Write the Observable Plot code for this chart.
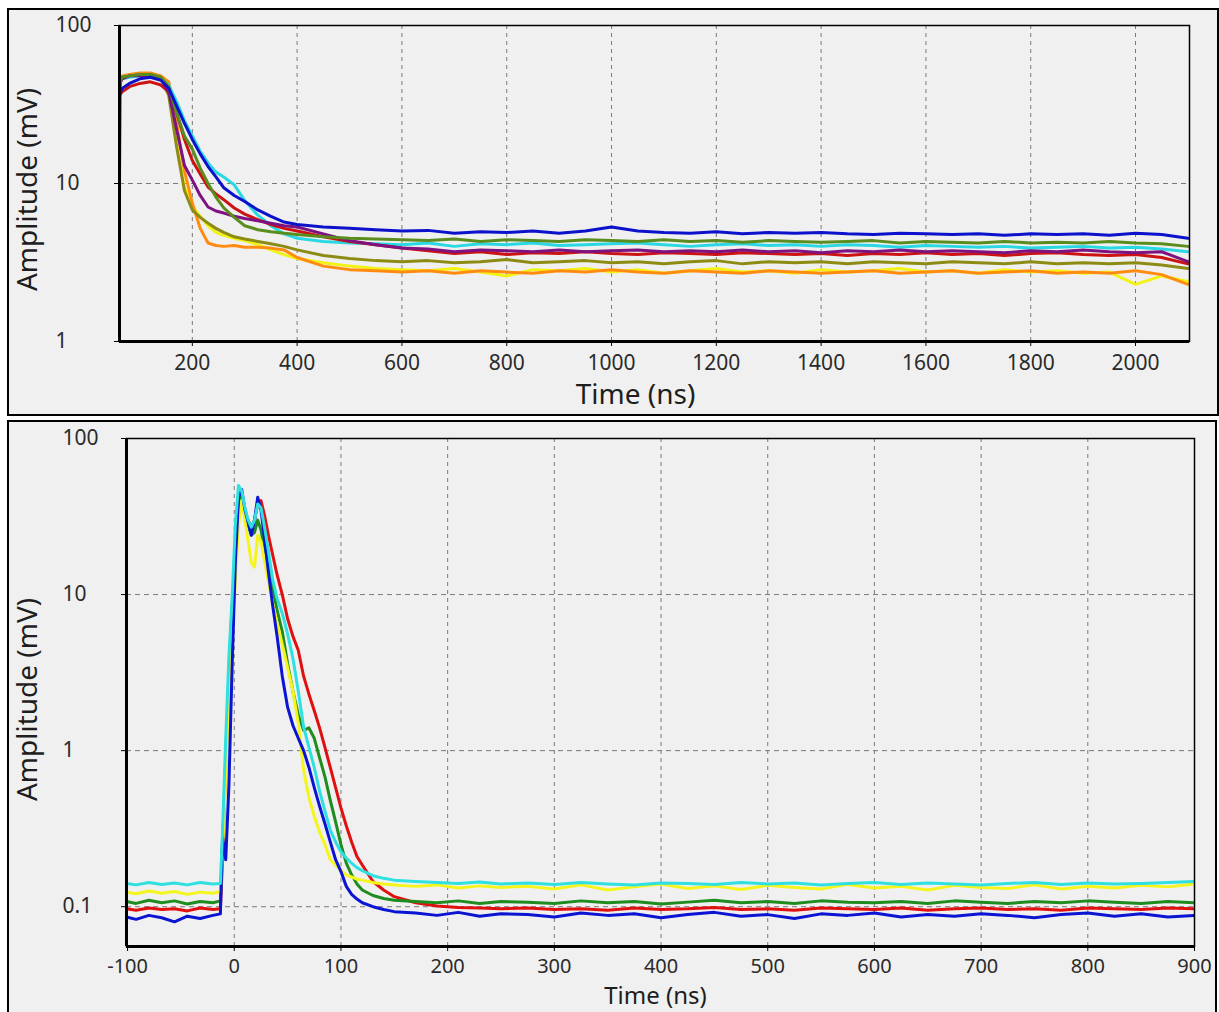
<!DOCTYPE html>
<html>
<head>
<meta charset="utf-8">
<script src="https://cdn.jsdelivr.net/npm/d3@7"></script>
<script src="https://cdn.jsdelivr.net/npm/@observablehq/plot@0.6"></script>
<style>
  html, body { margin: 0; padding: 0; background: #ffffff; width: 1219px; height: 1012px; overflow: hidden; }
  .box { position: absolute; box-sizing: border-box; border: 2px solid #000; background: #f0f0f0; }
  .chart { position: absolute; left: 0; }
  .chart svg { display: block; }
</style>
</head>
<body>
<div class="box" style="left:7px; top:8px; width:1212px; height:408px;"></div>
<div class="box" style="left:7px; top:420px; width:1210px; height:620px;"></div>
<div id="top" class="chart" style="top:0px;"></div>
<div id="bottom" class="chart" style="top:420px;"></div>
<script>
// ---------- Top panel data (Time in ns, Amplitude in mV) ----------
const topTime = [61, 63, 66, 80, 100, 120, 140, 155, 170, 185,
  200, 215, 230, 245, 260, 280, 300, 325, 350, 375,
  400, 450, 500, 550, 600, 650, 700, 750, 800, 850,
  900, 950, 1000, 1050, 1100, 1150, 1200, 1250, 1300, 1350,
  1400, 1450, 1500, 1550, 1600, 1650, 1700, 1750, 1800, 1850,
  1900, 1950, 2000, 2050, 2100];
const topXTicks = [200, 400, 600, 800, 1000, 1200, 1400, 1600, 1800, 2000];
const topYTicks = [1, 10, 100];

const topBlue = [36, 38, 40, 43, 46, 47, 45, 40, 31, 24,
  19, 15.4, 12.8, 11, 9.4, 8.4, 7.7, 6.8, 6.2, 5.7,
  5.5, 5.3, 5.2, 5.1, 5.0, 5.05, 4.85, 4.95, 4.9, 5.0,
  4.85, 5.0, 5.3, 5.0, 4.9, 4.85, 4.95, 4.8, 4.9, 4.85,
  4.9, 4.8, 4.75, 4.85, 4.8, 4.75, 4.8, 4.7, 4.8, 4.75,
  4.8, 4.7, 4.85, 4.75, 4.5];
const topCyan = [40, 44, 46, 47, 48, 48, 46, 42, 33, 25,
  20, 16, 13.5, 11.8, 11, 9.8, 7.8, 6.3, 5.4, 4.8,
  4.5, 4.3, 4.2, 4.15, 4.1, 4.2, 4.0, 4.15, 4.1, 4.2,
  4.05, 4.1, 4.15, 4.2, 4.1, 4.0, 4.1, 4.15, 4.05, 4.1,
  4.0, 4.1, 4.05, 3.95, 4.05, 4.0, 3.95, 4.0, 3.9, 3.95,
  4.0, 3.9, 3.95, 3.85, 3.7];
const topGreen = [42, 45, 47, 48, 49, 49, 47, 41, 28, 20,
  16.5, 12.5, 10, 8.2, 7.0, 6.1, 5.4, 5.1, 4.95, 4.85,
  4.75, 4.6, 4.5, 4.45, 4.4, 4.35, 4.45, 4.3, 4.4, 4.35,
  4.3, 4.4, 4.35, 4.3, 4.4, 4.3, 4.35, 4.25, 4.35, 4.3,
  4.25, 4.3, 4.35, 4.2, 4.3, 4.25, 4.2, 4.3, 4.2, 4.25,
  4.2, 4.3, 4.2, 4.15, 4.0];
const topPurple = [40, 44, 46, 48, 48, 48, 46, 38, 22, 13,
  10.5, 8.4, 7.1, 6.7, 6.5, 6.2, 6.0, 5.8, 5.6, 5.4,
  5.3, 4.8, 4.35, 4.1, 3.9, 3.85, 3.7, 3.8, 3.75, 3.7,
  3.8, 3.7, 3.75, 3.8, 3.7, 3.75, 3.7, 3.8, 3.7, 3.75,
  3.65, 3.75, 3.7, 3.8, 3.7, 3.75, 3.7, 3.65, 3.75, 3.7,
  3.8, 3.7, 3.65, 3.7, 3.2];
const topRed = [36, 37, 38, 41, 43, 44, 42, 38, 28, 19,
  14, 11.5, 9.5, 8.6, 7.9, 7.0, 6.4, 5.9, 5.5, 5.2,
  5.0, 4.6, 4.3, 4.1, 3.9, 3.75, 3.6, 3.7, 3.55, 3.65,
  3.6, 3.7, 3.6, 3.55, 3.65, 3.6, 3.55, 3.65, 3.6, 3.55,
  3.6, 3.5, 3.6, 3.55, 3.65, 3.55, 3.6, 3.5, 3.6, 3.65,
  3.55, 3.5, 3.55, 3.4, 3.1];
const topOlive = [12, 44, 47, 48, 49, 49, 47, 36, 17, 9,
  6.8, 6.1, 5.6, 5.2, 4.9, 4.6, 4.45, 4.3, 4.15, 4.0,
  3.8, 3.5, 3.35, 3.25, 3.2, 3.25, 3.15, 3.2, 3.3, 3.15,
  3.2, 3.25, 3.15, 3.2, 3.1, 3.2, 3.25, 3.1, 3.2, 3.15,
  3.2, 3.1, 3.2, 3.15, 3.1, 3.2, 3.15, 3.1, 3.2, 3.1,
  3.15, 3.1, 3.15, 3.05, 2.9];
const topYellow = [4.5, 44, 47, 48, 49, 49, 47, 38, 18, 9.5,
  7.2, 6.2, 5.4, 4.9, 4.7, 4.5, 4.35, 4.1, 3.8, 3.55,
  3.35, 3.15, 3.0, 2.9, 2.85, 2.8, 2.9, 2.75, 2.6, 2.85,
  2.8, 2.9, 2.75, 2.85, 2.7, 2.8, 2.9, 2.75, 2.8, 2.7,
  2.85, 2.75, 2.8, 2.9, 2.75, 2.8, 2.7, 2.85, 2.75, 2.8,
  2.7, 2.75, 2.3, 2.6, 2.4];
const topOrange = [42, 46, 48, 49, 50, 50, 48, 44, 24, 12,
  7.5, 5.2, 4.2, 4.05, 4.0, 4.05, 3.95, 3.95, 3.9, 3.8,
  3.4, 3.0, 2.85, 2.8, 2.75, 2.8, 2.7, 2.8, 2.75, 2.7,
  2.8, 2.75, 2.85, 2.75, 2.7, 2.8, 2.75, 2.7, 2.8, 2.75,
  2.7, 2.75, 2.8, 2.7, 2.75, 2.8, 2.7, 2.75, 2.8, 2.7,
  2.75, 2.7, 2.8, 2.65, 2.3];

// ---------- Bottom panel data ----------
const botTime = [-101, -92, -80, -68, -56, -44, -32, -20, -13,
  -11, -8, -5, -2, 1, 4, 7, 10, 13, 16, 19, 22, 25, 28,
  32, 36, 40,
  45, 50, 55, 60, 65, 70, 75, 80, 85, 90, 95, 100, 105, 110, 115, 120,
  130, 140, 150,
  170, 190, 210, 230, 250,
  275, 300, 325, 350, 375, 400, 425, 450, 475, 500, 525, 550, 575, 600, 625, 650, 675, 700, 725, 750, 775, 800, 825, 850, 875, 900];
const botXTicks = [-100, 0, 100, 200, 300, 400, 500, 600, 700, 800, 900];
const botYTicks = [0.1, 1, 10, 100];

const botCyan = [0.141, 0.138, 0.143, 0.139, 0.142, 0.138, 0.143, 0.14, 0.141,
  0.3, 1.2, 4.0, 9.5, 28, 50, 46, 36, 30, 27, 30, 38, 36, 28,
  19, 12.5, 9.5,
  7.6, 5.6, 3.9, 2.4, 1.42, 1.05, 0.78, 0.55, 0.41, 0.31, 0.26, 0.225, 0.205, 0.19, 0.178, 0.17,
  0.158, 0.152, 0.148,
  0.145, 0.143, 0.141, 0.144, 0.14,
  0.142, 0.139, 0.143, 0.14, 0.138, 0.142, 0.141, 0.139, 0.143, 0.14, 0.142, 0.138, 0.141, 0.143, 0.139, 0.142, 0.14, 0.138, 0.141, 0.143, 0.139, 0.142, 0.14, 0.141, 0.143, 0.145];
const botBlue = [0.086, 0.083, 0.088, 0.085, 0.08, 0.087, 0.084, 0.088, 0.09,
  0.28, 0.2, 0.6, 3.5, 16, 42, 47, 35, 29, 24, 30, 42, 35, 24,
  14, 8.5, 5.5,
  3.0, 1.9, 1.45, 1.2, 1.0, 0.78, 0.58, 0.44, 0.34, 0.26, 0.2, 0.168, 0.135, 0.12, 0.112, 0.106,
  0.1, 0.096, 0.093,
  0.091, 0.088, 0.092, 0.087, 0.09,
  0.089, 0.086, 0.091, 0.088, 0.09, 0.085, 0.089, 0.092, 0.087, 0.089, 0.084, 0.09, 0.088, 0.091, 0.086, 0.089, 0.087, 0.09, 0.088, 0.085, 0.089, 0.091, 0.087, 0.09, 0.086, 0.088];
const botRed = [0.097, 0.095, 0.098, 0.096, 0.097, 0.094, 0.098, 0.096, 0.097,
  0.2, 0.8, 3.0, 8.0, 18, 32, 38, 33, 30, 27, 30, 38, 40, 33,
  24, 18, 13.5,
  10, 7.0, 5.4, 4.4, 3.0, 2.3, 1.8, 1.4, 1.05, 0.78, 0.58, 0.43, 0.33, 0.26, 0.21, 0.185,
  0.145, 0.128, 0.116,
  0.106, 0.101, 0.099, 0.098, 0.097,
  0.098, 0.096, 0.097, 0.095, 0.098, 0.096, 0.097, 0.099, 0.096, 0.097, 0.095, 0.098, 0.097, 0.096, 0.098, 0.095, 0.097, 0.098, 0.096, 0.097, 0.095, 0.098, 0.097, 0.096, 0.098, 0.097];
const botGreen = [0.108, 0.105, 0.11, 0.106, 0.109, 0.104, 0.108, 0.106, 0.109,
  0.25, 0.9, 3.2, 8.5, 16, 38, 44, 33, 28, 24, 25, 30, 26, 20,
  15, 11, 8,
  5.8, 3.6, 2.4, 1.7, 1.35, 1.4, 1.2, 0.9, 0.68, 0.48, 0.35, 0.25, 0.19, 0.16, 0.14, 0.128,
  0.118, 0.113, 0.11,
  0.108, 0.106, 0.109, 0.105, 0.108,
  0.107, 0.105, 0.109, 0.106, 0.108, 0.104, 0.107, 0.11, 0.106, 0.108, 0.105, 0.109, 0.107, 0.106, 0.108, 0.105, 0.109, 0.107, 0.105, 0.108, 0.106, 0.109, 0.107, 0.105, 0.108, 0.106];
const botYellow = [0.124, 0.121, 0.126, 0.122, 0.125, 0.12, 0.124, 0.122, 0.125,
  0.22, 0.7, 2.0, 6.0, 12, 28, 40, 30, 22, 16, 15, 24, 22, 17,
  12, 8.8, 6.6,
  4.8, 3.4, 2.4, 1.5, 0.75, 0.5, 0.38, 0.3, 0.25, 0.2, 0.185, 0.17, 0.16, 0.155, 0.15, 0.148,
  0.143, 0.14, 0.138,
  0.135, 0.138, 0.132, 0.136, 0.133,
  0.135, 0.13, 0.138, 0.128, 0.134, 0.14, 0.131, 0.136, 0.129, 0.137, 0.133, 0.13, 0.139, 0.132, 0.135, 0.128, 0.137, 0.133, 0.131, 0.138, 0.13, 0.135, 0.132, 0.137, 0.134, 0.14];

// ---------- Series (draw order) ----------
const topSeries = [
  ["#f2f214", topYellow],
  ["#ff8c10", topOrange],
  ["#8c8c14", topOlive],
  ["#2ad8e4", topCyan],
  ["#cc1212", topRed],
  ["#7d1280", topPurple],
  ["#5a8c1e", topGreen],
  ["#0c12cc", topBlue]
];
const botSeries = [
  ["#e01010", botRed],
  ["#1e8c1e", botGreen],
  ["#f5f51e", botYellow],
  ["#0a14d2", botBlue],
  ["#2ee0e0", botCyan]
];

const font = "'Noto Sans', 'Open Sans', sans-serif";
const gridColor = "#7a7a7a";

function panel({time, series, xDomain, yDomain, xTicks, yTicks, yGrid, xGrid,
                width, height, mL, mR, mT, mB, xPad, tickFont, titleFont,
                xTitleDx, xTitleDy, yTitleDx, yTitleDy}) {
  return Plot.plot({
    width, height,
    marginLeft: mL, marginRight: mR, marginTop: mT, marginBottom: mB,
    style: {background: "transparent", fontFamily: font, overflow: "visible"},
    x: {domain: xDomain},
    y: {type: "log", domain: yDomain},
    marks: [
      Plot.ruleX(xGrid, {stroke: gridColor, strokeWidth: 1, strokeDasharray: "4,4"}),
      Plot.ruleY(yGrid, {stroke: gridColor, strokeWidth: 1, strokeDasharray: "5,4"}),
      ...series.map(([color, vals]) => Plot.line(time, {
        x: d => d, y: (d, i) => vals[i], stroke: color, strokeWidth: 3,
        strokeLinejoin: "round", clip: true
      })),
      Plot.frame({stroke: "#000", strokeWidth: 1.5}),
      Plot.ruleX([xDomain[0]], {stroke: "#000", strokeWidth: 3}),
      Plot.ruleY([yDomain[0]], {stroke: "#000", strokeWidth: 3}),
      Plot.axisX(xTicks, {tickSize: 5, tickPadding: xPad, fontSize: tickFont, fill: "#2a2a2a",
        stroke: "#000", label: null, tickFormat: d => String(d)}),
      Plot.axisY(yTicks, {tickSize: 5, tickPadding: 59, textAnchor: "start", fontSize: 21,
        fill: "#2a2a2a", stroke: "#000", label: null, tickFormat: d => String(d)}),
      Plot.text(["Time (ns)"], {frameAnchor: "bottom", textAnchor: "middle", lineAnchor: "middle",
        dx: xTitleDx, dy: xTitleDy, fontSize: titleFont, fill: "#1e1e1e"}),
      Plot.text(["Amplitude (mV)"], {frameAnchor: "left", textAnchor: "middle", lineAnchor: "middle",
        rotate: -90, dx: yTitleDx, dy: yTitleDy, fontSize: 28, fill: "#1e1e1e"})
    ]
  });
}

document.getElementById("top").append(panel({
  time: topTime, series: topSeries,
  xDomain: [61, 2103], yDomain: [1, 100],
  xTicks: topXTicks, yTicks: topYTicks, yGrid: [10], xGrid: topXTicks,
  width: 1219, height: 418, mL: 119, mR: 30, mT: 25, mB: 77,
  xPad: 9, tickFont: 21, titleFont: 28,
  xTitleDx: -19, xTitleDy: 54, yTitleDx: -91, yTitleDy: 6
}));

document.getElementById("bottom").append(panel({
  time: botTime, series: botSeries,
  xDomain: [-101, 900], yDomain: [0.0556, 100],
  xTicks: botXTicks, yTicks: botYTicks, yGrid: [0.1, 1, 10], xGrid: botXTicks.slice(1, -1),
  width: 1219, height: 592, mL: 126, mR: 25, mT: 18, mB: 66,
  xPad: 7, tickFont: 20, titleFont: 24,
  xTitleDx: -5, xTitleDy: 50, yTitleDx: -98, yTitleDy: 7
}));
</script>
</body>
</html>
